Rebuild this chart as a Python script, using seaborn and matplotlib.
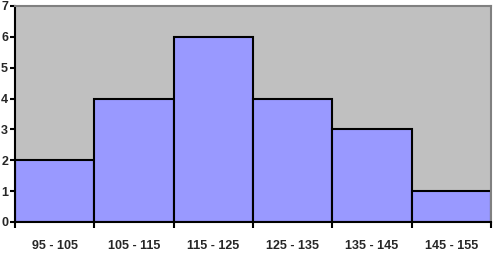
import matplotlib
matplotlib.use("Agg")
import matplotlib.pyplot as plt
import seaborn as sns
import numpy as np
import pandas as pd

categories = ["95 - 105", "105 - 115", "115 - 125", "125 - 135", "135 - 145", "145 - 155"]
counts = [2, 4, 6, 4, 3, 1]
y_ticks = [0, 1, 2, 3, 4, 5, 6, 7]

sns.set_style("white")
plt.rcParams['font.family'] = ['Liberation Sans Narrow', 'Liberation Sans', 'DejaVu Sans']

df = pd.DataFrame({"cat": categories, "count": counts})

fig = plt.figure(figsize=(4.93, 2.60), dpi=100)
ax = fig.add_axes([15/493, 1 - 222/260, (491 - 15)/493, (222 - 6)/260])
ax.set_facecolor("#C0C0C0")
sns.barplot(data=df, x="cat", y="count", ax=ax, color="#9999FF", saturation=1,
            width=1.0, edgecolor="black", linewidth=1.5)
ax.set_xlim(-0.5, len(categories) - 0.5)
ax.set_ylim(0, 7)
ax.set_yticks(y_ticks)
ax.set_xlabel("")
ax.set_ylabel("")
ax.set_xticks(range(len(categories)))
ax.set_xticklabels(categories, fontweight="bold", fontsize=9)
ax.set_xticks(np.arange(-0.5, len(categories)), minor=True)
ax.tick_params(axis="x", which="major", length=0, pad=13)
ax.tick_params(axis="x", which="minor", length=4, width=1.5, color="black", direction="out", bottom=True)
ax.tick_params(axis="y", length=3.5, width=1.5, color="black", direction="out", left=True, pad=1.5)
for lab in ax.get_yticklabels():
    lab.set_fontweight("bold")
    lab.set_fontsize(9)
for s in ["left", "bottom"]:
    ax.spines[s].set_color("black")
    ax.spines[s].set_linewidth(1.5)
for s in ["top", "right"]:
    ax.spines[s].set_color("#808080")
    ax.spines[s].set_linewidth(1.5)
fig.savefig("out.png", dpi=100)
